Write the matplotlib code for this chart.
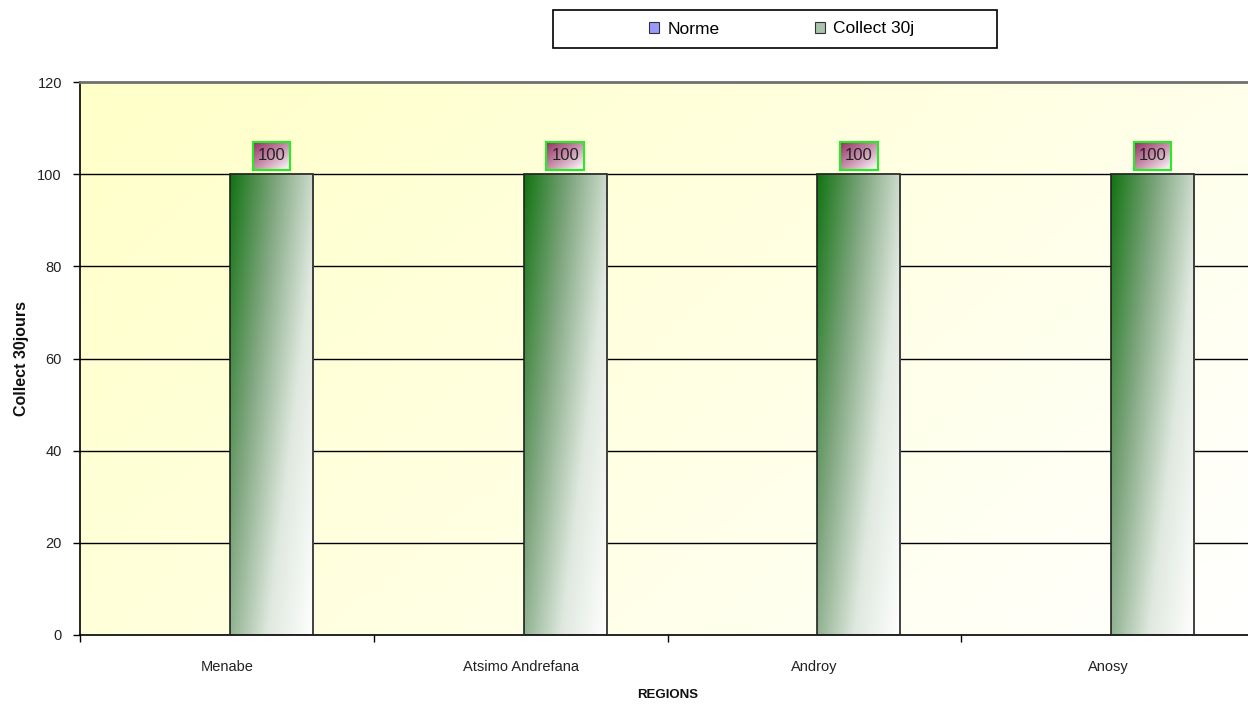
import matplotlib
matplotlib.use('Agg')
import matplotlib.pyplot as plt
from matplotlib.patches import Rectangle, Patch
from matplotlib.colors import LinearSegmentedColormap
import numpy as np

# data
regions = ['Menabe', 'Atsimo Andrefana', 'Androy', 'Anosy']
norme = [0, 0, 0, 0]
collect_30j = [100, 100, 100, 100]

plt.rcParams['font.family'] = ['Liberation Sans', 'DejaVu Sans']

W, H = 1248, 706
fig = plt.figure(figsize=(W / 100, H / 100), dpi=100)
# plot area: left 80px, top 82px, bottom 635px, right runs past the figure edge
ax = fig.add_axes([80 / W, (H - 635) / H, 1175 / W, (635 - 82) / H])

# yellow -> white diagonal background
gx, gy = np.meshgrid(np.linspace(0, 1, 200), np.linspace(0, 1, 200))
t = np.clip(0.65 * gx + 0.35 * gy, 0, 1)
bg = LinearSegmentedColormap.from_list('bg', ['#ffffc8', '#ffffe2', '#ffffff'])
ax.imshow(t, cmap=bg, extent=(0, 1, 0, 1), transform=ax.transAxes,
          aspect='auto', zorder=0, origin='upper')

x = np.arange(len(regions)) + 0.5
bw = 0.283
off = 0.01

for yv in range(20, 120, 20):
    ax.axhline(yv, color='black', lw=1, zorder=1)

ax.bar(x - bw / 2 + off, norme, bw, color='#9999ff', edgecolor='black', lw=0.8, zorder=2)
bars = ax.bar(x + bw / 2 + off, collect_30j, bw, color='none', edgecolor='#222222', lw=1.2, zorder=3)

green = LinearSegmentedColormap.from_list('grn', ['#137413', '#7fa67f', '#dfe8df', '#ffffff'])
pink = LinearSegmentedColormap.from_list('pnk', ['#963366', '#c890ac', '#ffffff'])
gx2, gy2 = np.meshgrid(np.linspace(0, 1, 60), np.linspace(0, 1, 300))
tg = np.clip(0.6 * gx2 + 0.4 * gy2, 0, 1)
gx3, gy3 = np.meshgrid(np.linspace(0, 1, 40), np.linspace(0, 1, 30))
tp = np.clip(0.5 * gx3 + 0.5 * gy3, 0, 1)

for b, v in zip(bars, collect_30j):
    x0, w = b.get_x(), b.get_width()
    im = ax.imshow(tg, cmap=green, extent=(x0, x0 + w, 0, v), aspect='auto',
                   origin='upper', zorder=2.5)
    im.set_clip_path(b)
    # value label box
    lw_, lh = 0.128, 5.9
    cx = x0 + w / 2
    y0 = v + 1.0
    ax.imshow(tp, cmap=pink, extent=(cx - lw_ / 2, cx + lw_ / 2, y0, y0 + lh),
              aspect='auto', origin='upper', zorder=4)
    ax.add_patch(Rectangle((cx - lw_ / 2, y0), lw_, lh, fill=False,
                           edgecolor='#22ee22', lw=1.5, zorder=5))
    ax.text(cx, y0 + lh / 2, f'{v:g}', ha='center', va='center',
            fontsize=12, color='#222222', zorder=6)

ax.set_xlim(0, len(regions))
ax.set_ylim(0, 120)
ax.set_yticks(range(0, 121, 20))
ax.set_xticks(np.arange(len(regions) + 1))
ax.set_xticklabels([])
ax.set_xticks(x, minor=True)
ax.set_xticklabels(regions, minor=True)
ax.tick_params(axis='x', which='minor', length=0, pad=18, labelsize=10.5, labelcolor='#222222')
ax.tick_params(axis='x', which='major', length=5, width=1, direction='out')
ax.tick_params(axis='y', length=5, width=1, direction='out', labelsize=10.5,
               labelcolor='#222222', pad=8)

for s in ['left', 'bottom']:
    ax.spines[s].set_linewidth(1.2)
    ax.spines[s].set_color('black')
ax.spines['top'].set_color('#707070')
ax.spines['top'].set_linewidth(2)
ax.spines['right'].set_visible(False)

ax.set_xlabel('REGIONS', fontsize=9.5, fontweight='bold', labelpad=11, color='#111111')
ax.set_ylabel('Collect 30jours', fontsize=11.5, fontweight='bold', labelpad=6, color='#111111')

# legend
fig.patches.append(Rectangle((553 / W, 1 - 48 / H), 444 / W, 38 / H, transform=fig.transFigure,
                             facecolor='white', edgecolor='black', lw=1.2))
handles = [Patch(facecolor='#9999ff', edgecolor='#333333', lw=0.8),
           Patch(facecolor='#a9c4a9', edgecolor='#333333', lw=0.8)]
fig.legend(handles, ['Norme', 'Collect 30j'], loc='center', ncol=2, frameon=False,
           bbox_to_anchor=(782 / W, 1 - 29 / H), fontsize=12.5, handlelength=0.55,
           handleheight=0.55, handletextpad=0.5, columnspacing=5.5)

fig.savefig('out.png', dpi=100)
